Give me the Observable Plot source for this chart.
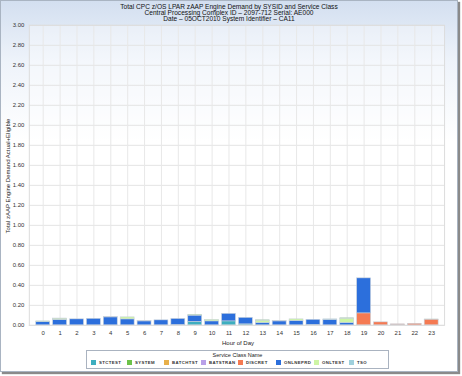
<!DOCTYPE html>
<html><head><meta charset="utf-8">
<script src="https://cdn.jsdelivr.net/npm/d3@7"></script>
<script src="https://cdn.jsdelivr.net/npm/@observablehq/plot@0.6"></script>
<style>
html,body{margin:0;padding:0;background:#fff;}
#wrap{position:absolute;left:0;top:0;width:456px;height:370px;border:1px solid #a9b4c2;
 box-shadow:2px 2px 1px #8a8a8a;background:linear-gradient(#d3dff0 0px,#eef3fa 60px,#ffffff 140px);overflow:hidden;
 font-family:"Liberation Sans",Arial,sans-serif;color:#222;}
#title{position:absolute;left:0;width:456px;top:3px;text-align:center;font-size:6.6px;line-height:6.2px;color:#111;}
#chart{position:absolute;left:-1px;top:-1px;}
#ylab{position:absolute;left:4px;top:175px;transform-origin:0 0;transform:rotate(-90deg) translate(-50%,0);font-size:6px;white-space:nowrap;color:#222;}
#xlab{position:absolute;left:0;width:474px;top:339px;text-align:center;font-size:6px;color:#222;}
#legend{position:absolute;left:85px;top:349px;width:301px;height:17px;border:1px solid #aab3c0;background:#fff;}
#legend .lt{position:absolute;left:0;width:301px;top:1px;text-align:center;font-size:5.5px;color:#222;}
#legend .it{position:absolute;top:9px;font-size:4.3px;font-weight:bold;letter-spacing:0.4px;color:#333;white-space:nowrap;}
#legend .sw{display:inline-block;width:5px;height:5px;vertical-align:middle;margin-right:3px;}
</style></head>
<body>
<div id="wrap">
 <div id="chart"></div>
 <div id="title">Total CPC z/OS LPAR zAAP Engine Demand by SYSID and Service Class<br>Central Processing Complex ID – 2097-712 Serial: AE000<br>Date – 05OCT2010 System Identifier – CA11</div>
 <div id="ylab">Total zAAP Engine Demand Actual+Eligible</div>
 <div id="xlab">Hour of Day</div>
 <div id="legend"><div class="lt">Service Class Name</div></div>
</div>
<script>
const hours = d3.range(0, 24);
const classes = ["STCTEST","SYSTEM","BATCHTST","BATSTRAN","DISCRET","ONLNEPRD","ONLTEST","TSO"];
const colors = ["#3eaebf","#6cc24a","#e8b04a","#b9a0e8","#f57a52","#2c6fdc","#cdf5a5","#9fd0dc"];
const stackOrder = ["STCTEST","BATCHTST","BATSTRAN","DISCRET","ONLNEPRD","ONLTEST","TSO","SYSTEM"];
const yTicks = [0,0.2,0.4,0.6,0.8,1.0,1.2,1.4,1.6,1.8,2.0,2.2,2.4,2.6,2.8,3.0];

const STCTEST  = [0,0,0,0,0,0,0,0,0,0.035,0,0.04,0.01,0,0,0,0.005,0,0,0,0,0,0,0];
const SYSTEM   = [0,0.003,0,0,0,0,0,0,0,0.008,0,0,0,0.006,0,0,0,0,0.006,0,0,0,0,0.004];
const BATCHTST = [0,0,0,0,0,0,0,0,0,0,0,0,0,0,0,0,0,0,0,0,0,0.005,0,0];
const BATSTRAN = [0,0,0,0,0,0,0,0,0.004,0,0,0,0,0,0,0,0,0,0,0,0,0,0,0];
const DISCRET  = [0,0,0,0,0,0,0,0,0,0,0,0,0,0,0,0,0,0,0,0.12,0.03,0.005,0.015,0.055];
const ONLNEPRD = [0.035,0.055,0.06,0.065,0.08,0.06,0.04,0.05,0.06,0.06,0.04,0.075,0.065,0.025,0.04,0.045,0.05,0.055,0.025,0.35,0,0,0,0];
const ONLTEST  = [0.005,0.01,0,0,0,0.02,0,0,0,0,0.015,0,0,0.02,0,0.015,0,0,0.04,0,0,0,0,0];
const TSO      = [0,0,0,0,0.005,0,0.005,0,0,0,0,0,0,0,0.005,0,0,0.005,0,0,0,0,0,0];

const series = {STCTEST,SYSTEM,BATCHTST,BATSTRAN,DISCRET,ONLNEPRD,ONLTEST,TSO};
const rows = [];
for (const c of classes) hours.forEach((h,i)=>{ if (series[c][i] > 0) rows.push({hour:h, cls:c, value:series[c][i]}); });

const chart = Plot.plot({
  width: 460, height: 351,
  marginTop: 25, marginBottom: 24, marginLeft: 29, marginRight: 13,
  style: {background: "transparent", fontFamily: "Liberation Sans, Arial, sans-serif", fontSize: "6px", color: "#333"},
  x: {type: "band", domain: hours, paddingInner: 0.2, paddingOuter: 0.1, label: null},
  y: {domain: [0, 3], label: null},
  color: {domain: classes, range: colors},
  marks: [
    Plot.frame({fill: "#ffffff", fillOpacity: 0.35}),
    Plot.gridY(yTicks, {stroke: "#e4e4e4", strokeOpacity: 1}),
    Plot.gridX(hours, {stroke: "#e8e8e8", strokeOpacity: 1}),
    Plot.barY(rows, Plot.stackY({order: stackOrder}, {x: "hour", y: "value", fill: "cls", stroke: "#c9d2dc", strokeWidth: 0.6})),
    Plot.frame({stroke: "#dcdcdc"}),
    Plot.axisY(yTicks, {tickFormat: d3.format(".2f"), tickSize: 0, tickPadding: 5, label: null, fill: "#333"}),
    Plot.axisX(hours, {tickSize: 0, tickPadding: 5, label: null, fill: "#333"})
  ]
});
document.getElementById("chart").appendChild(chart);

const legend = document.getElementById("legend");
const lx = [4, 40, 77, 114, 151, 189, 227, 262];
classes.forEach((c, i) => {
  const d = document.createElement("div");
  d.className = "it";
  d.style.left = lx[i] + "px";
  d.innerHTML = `<span class="sw" style="background:${colors[i]}"></span>${c}`;
  legend.appendChild(d);
});
</script>
</body></html>
